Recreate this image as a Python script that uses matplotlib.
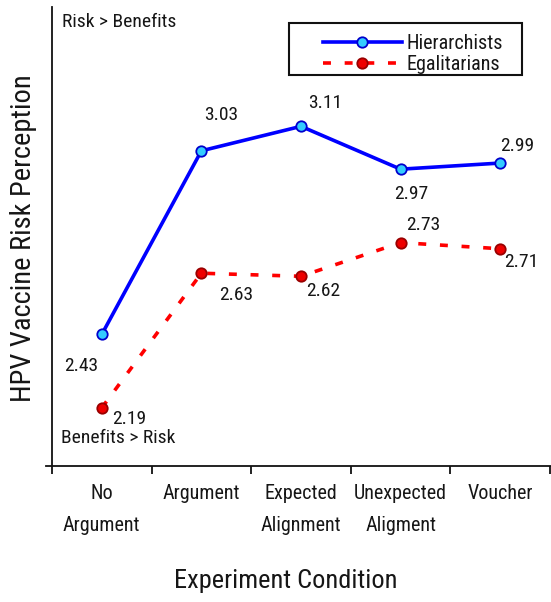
import matplotlib
matplotlib.use("Agg")
import matplotlib.pyplot as plt
from matplotlib.patches import Rectangle
import numpy as np

categories = ["No\nArgument", "Argument", "Expected\nAlignment", "Unexpected\nAligment", "Voucher"]
hierarchists = [2.43, 3.03, 3.11, 2.97, 2.99]
egalitarians = [2.19, 2.63, 2.62, 2.73, 2.71]

FONT = ["Roboto Condensed", "DejaVu Sans"]
plt.rcParams['font.family'] = FONT
TXT = "#161616"

fig = plt.figure(figsize=(5.51, 6.02), dpi=100)
W, H = 551, 602
ax = fig.add_axes([46 / W, 1 - 466 / H, (551 - 46) / W, (466 - 7) / H])

x = np.arange(len(categories)) + 0.5
ax.plot(x, hierarchists, color="#0000FF", lw=2.6, marker="o", ms=7.5,
        mfc="#33CCFF", mec="#0000CC", mew=1.3, label="Hierarchists", zorder=3)
ax.plot(x, egalitarians, color="#FF0000", lw=2.6, ls=(0, (2.2, 3.8)), marker="o", ms=7.5,
        mfc="#EE0000", mec="#990000", mew=1.3, label="Egalitarians", zorder=3)

ax.set_xlim(-0.06, 5.01)
ax.set_ylim(2.0, 3.5)

# value labels (offsets in pixels -> points)
h_off = [(-21, -32), (20, 36), (24, 23), (11, -25), (17, 17)]
e_off = [(27, -11), (35, -22), (22, -15), (23, 18), (21, -13)]
for xi, v, (dx, dy) in zip(x, hierarchists, h_off):
    ax.annotate(f"{v:.2f}", (xi, v), xytext=(dx * 0.72, dy * 0.72), textcoords="offset points",
                ha="center", va="center", fontsize=14, color=TXT)
for xi, v, (dx, dy) in zip(x, egalitarians, e_off):
    ax.annotate(f"{v:.2f}", (xi, v), xytext=(dx * 0.72, dy * 0.72), textcoords="offset points",
                ha="center", va="center", fontsize=14, color=TXT)

fig.text(62 / W, 1 - 22 / H, "Risk > Benefits", ha="left", va="center", fontsize=14, color=TXT)
fig.text(61 / W, 1 - 438 / H, "Benefits > Risk", ha="left", va="center", fontsize=14, color=TXT)

ax.spines["top"].set_visible(False)
ax.spines["right"].set_visible(False)
ax.spines["left"].set_position(("data", 0))
for s in ("left", "bottom"):
    ax.spines[s].set_linewidth(1.3)
    ax.spines[s].set_color("#111111")

ax.set_yticks([])
ax.set_xticks(np.arange(0, 6))
ax.set_xticklabels([])
ax.set_xticks(x, minor=True)
ax.set_xticklabels(categories, minor=True, fontsize=14.5, linespacing=1.85, color=TXT)
ax.tick_params(axis="x", which="major", direction="out", length=6, width=1.3, color="#111111")
ax.tick_params(axis="x", which="minor", length=0, pad=13)

ax.set_xlabel("Experiment Condition", fontsize=19, color=TXT)
ax.xaxis.set_label_coords((286 - 46) / (551 - 46), (466 - 581) / (466 - 7))
ax.xaxis.label.set_va("center")

ax.set_ylabel("HPV Vaccine Risk Perception", fontsize=20.5, color=TXT)
ax.yaxis.set_label_coords((24 - 46) / (551 - 46), (466 - 238) / (466 - 7))
ax.yaxis.label.set_va("center")

leg = ax.legend(loc="upper left", bbox_to_anchor=(323 / W, 1 - 34 / H), bbox_transform=fig.transFigure,
                frameon=False, fontsize=14.5, handlelength=3.9,
                borderpad=0, labelspacing=0.1, handletextpad=0.25, borderaxespad=0)
for t in leg.get_texts():
    t.set_color(TXT)
fig.patches.append(Rectangle((289 / W, 1 - 75 / H), (522 - 289) / W, (75 - 23) / H,
                             transform=fig.transFigure, fill=False, ec="#111111", lw=1.5, zorder=5))

fig.savefig("out.png", dpi=100)
